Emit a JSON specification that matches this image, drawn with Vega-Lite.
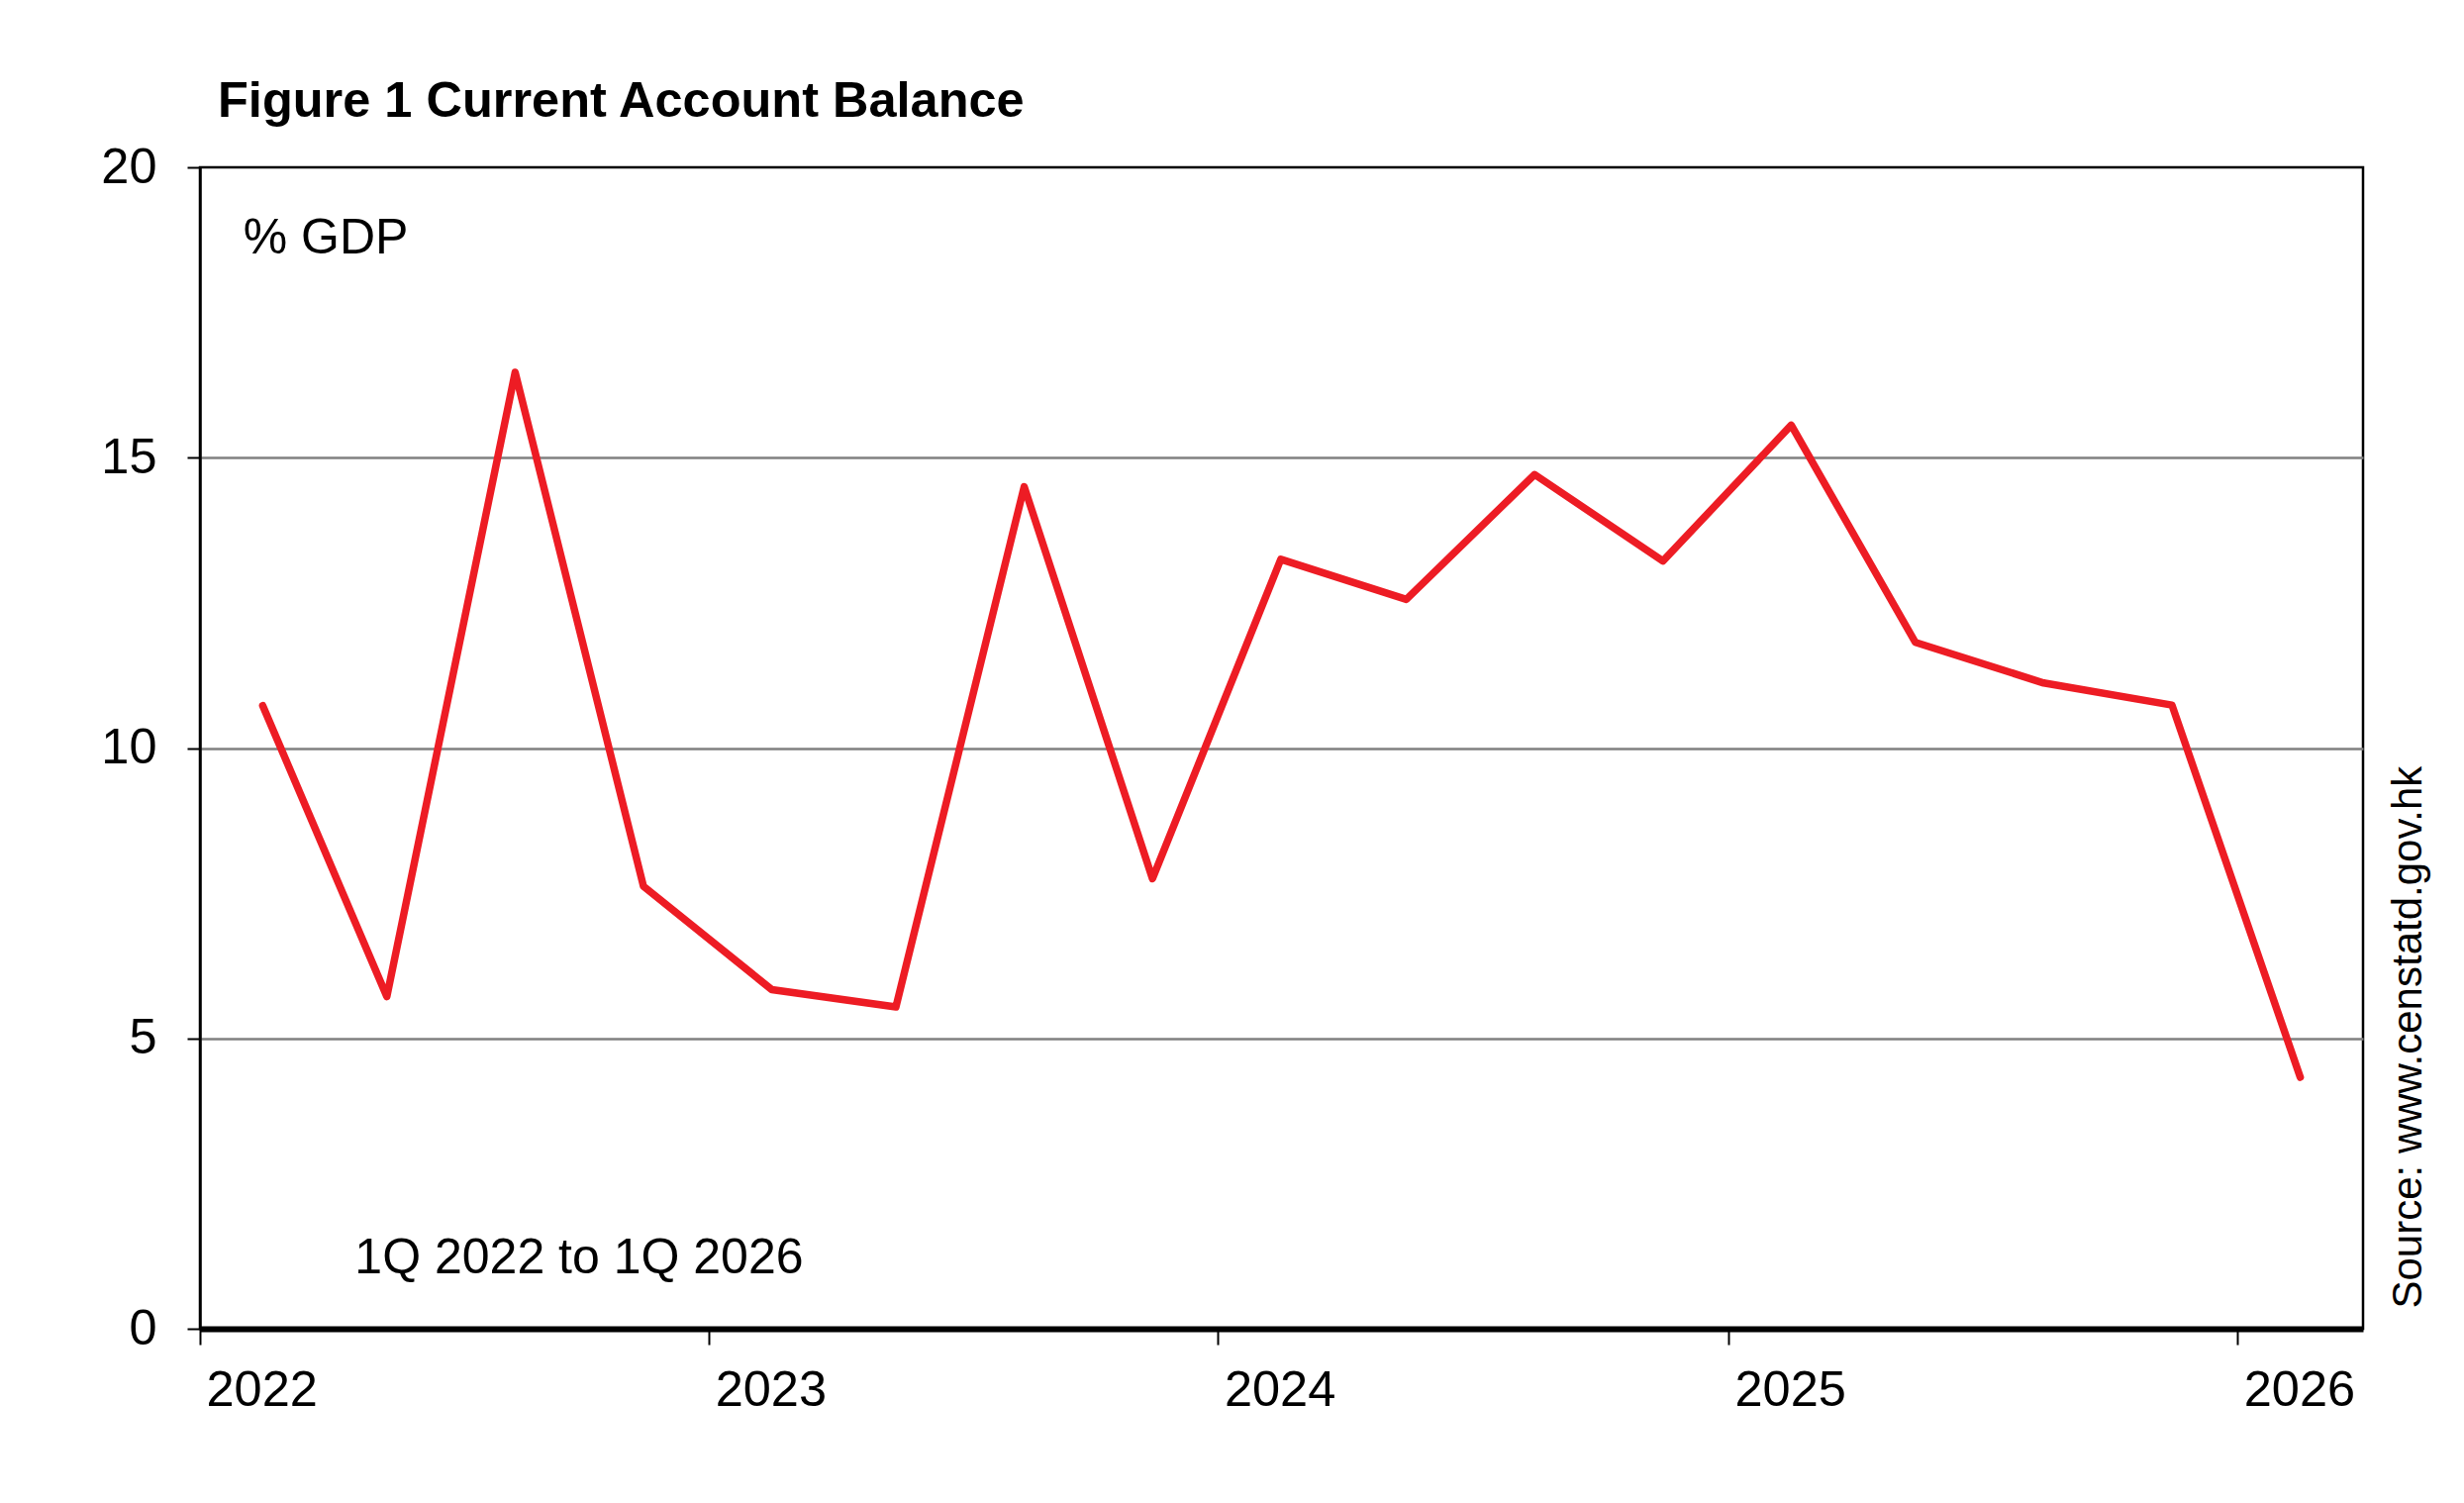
{
  "$schema": "https://vega.github.io/schema/vega-lite/v6.json",
  "autosize": "none",
  "padding": {"left": 202, "top": 169, "right": 102, "bottom": 176},
  "width": 2185,
  "height": 1173,
  "background": "white",
  "title": {
    "text": "Figure 1 Current Account Balance",
    "anchor": "start",
    "frame": "group",
    "dx": 18,
    "offset": -24,
    "baseline": "alphabetic",
    "font": "Liberation Sans",
    "fontSize": 50.5,
    "fontWeight": "bold",
    "color": "black"
  },
  "config": {
    "view": {"stroke": "black", "strokeWidth": 2.5},
    "font": "Liberation Sans"
  },
  "datasets": {
    "balance": [
      {"quarter": "2022-02-15", "value": 10.73},
      {"quarter": "2022-05-15", "value": 5.72},
      {"quarter": "2022-08-15", "value": 16.47},
      {"quarter": "2022-11-15", "value": 7.62},
      {"quarter": "2023-02-15", "value": 5.84},
      {"quarter": "2023-05-15", "value": 5.54},
      {"quarter": "2023-08-15", "value": 14.5},
      {"quarter": "2023-11-15", "value": 7.75},
      {"quarter": "2024-02-15", "value": 13.25},
      {"quarter": "2024-05-15", "value": 12.56},
      {"quarter": "2024-08-15", "value": 14.71},
      {"quarter": "2024-11-15", "value": 13.22},
      {"quarter": "2025-02-15", "value": 15.56},
      {"quarter": "2025-05-15", "value": 11.82},
      {"quarter": "2025-08-15", "value": 11.12},
      {"quarter": "2025-11-15", "value": 10.74},
      {"quarter": "2026-02-15", "value": 4.33}
    ],
    "notes": [
      {"quarter": "2022-02-01", "value": 18.51, "label": "% GDP"},
      {"quarter": "2022-04-22", "value": 0.96, "label": "1Q 2022 to 1Q 2026"}
    ]
  },
  "layer": [
    {
      "data": {"name": "balance"},
      "mark": {"type": "line", "color": "#ED1C24", "strokeWidth": 7.5, "strokeCap": "round", "strokeJoin": "round"},
      "encoding": {
        "x": {
          "field": "quarter",
          "type": "temporal",
          "scale": {"domain": ["2022-01-01T00:00:00", "2026-04-01T00:00:00"]},
          "axis": {
            "title": null,
            "values": [
              {"year": 2022, "month": 1, "date": 1},
              {"year": 2023, "month": 1, "date": 1},
              {"year": 2024, "month": 1, "date": 1},
              {"year": 2025, "month": 1, "date": 1},
              {"year": 2026, "month": 1, "date": 1}
            ],
            "format": "%Y",
            "labelAlign": "left",
            "labelOffset": 6,
            "labelFontSize": 50.5,
            "labelColor": "black",
            "labelPadding": 21,
            "labelFlush": false,
            "labelOverlap": false,
            "tickColor": "black",
            "tickWidth": 2,
            "tickSize": 16,
            "domainColor": "black",
            "domainWidth": 6,
            "grid": false
          }
        },
        "y": {
          "field": "value",
          "type": "quantitative",
          "scale": {"domain": [0, 20], "nice": false},
          "axis": {
            "title": null,
            "values": [0, 5, 10, 15, 20],
            "labelFontSize": 50.5,
            "labelColor": "black",
            "labelPadding": 31,
            "tickColor": "black",
            "tickWidth": 2,
            "tickSize": 13,
            "domainColor": "black",
            "domainWidth": 2.5,
            "grid": true,
            "gridColor": "#808080",
            "gridWidth": 2.5,
            "gridOpacity": {"condition": {"test": "datum.value == 0 || datum.value == 20", "value": 0}, "value": 1}
          }
        }
      }
    },
    {
      "data": {"name": "notes"},
      "mark": {"type": "text", "align": "left", "baseline": "alphabetic", "fontSize": 50, "color": "black"},
      "encoding": {
        "x": {"field": "quarter", "type": "temporal"},
        "y": {
          "field": "value",
          "type": "quantitative",
          "axis": {
            "orient": "right",
            "title": "Source: www.censtatd.gov.hk",
            "titleFontSize": 42,
            "titleFontWeight": "normal",
            "titleColor": "black",
            "titleAngle": 270,
            "titleAlign": "left",
            "titleBaseline": "top",
            "titleX": 25,
            "titleY": 1152,
            "labels": false,
            "ticks": false,
            "domain": false,
            "grid": false
          }
        },
        "text": {"field": "label"}
      }
    }
  ],
  "resolve": {"axis": {"y": "independent"}}
}
